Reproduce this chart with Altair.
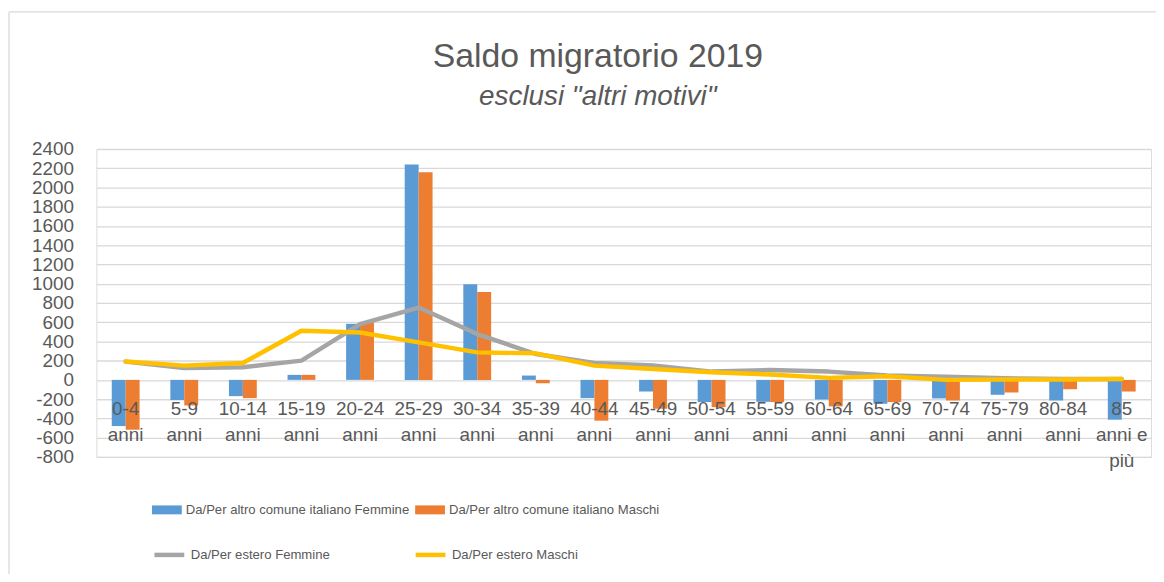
import altair as alt
import pandas as pd

categories = ["0-4 anni", "5-9 anni", "10-14 anni", "15-19 anni", "20-24 anni",
              "25-29 anni", "30-34 anni", "35-39 anni", "40-44 anni", "45-49 anni",
              "50-54 anni", "55-59 anni", "60-64 anni", "65-69 anni", "70-74 anni",
              "75-79 anni", "80-84 anni", "85 anni e più"]

bar_series = ["Da/Per altro comune italiano Femmine", "Da/Per altro comune italiano Maschi"]
line_series = ["Da/Per estero Femmine", "Da/Per estero Maschi"]

comune_femmine = [-480, -210, -169, 52, 583, 2240, 994, 45, -190, -121, -231, -228, -204, -248, -193, -155, -214, -414]
comune_maschi = [-518, -266, -190, 52, 597, 2157, 914, -35, -424, -300, -283, -231, -276, -231, -214, -131, -97, -121]
estero_femmine = [190, 124, 131, 200, 580, 752, 476, 269, 176, 150, 86, 103, 86, 45, 34, 17, 10, 10]
estero_maschi = [190, 148, 176, 510, 493, 390, 286, 276, 148, 114, 79, 55, 21, 38, 0, 3, 3, 10]

y_ticks = list(range(-800, 2401, 200))

bar_colors = ["#5b9bd5", "#ed7d31"]
line_colors = ["#a5a5a5", "#ffc000"]
text_color = "#595959"
grid_color = "#d9d9d9"

bars_df = pd.DataFrame(
    [{"cat": c, "serie": s, "val": v}
     for s, vals in zip(bar_series, [comune_femmine, comune_maschi])
     for c, v in zip(categories, vals)]
)
lines_df = pd.DataFrame(
    [{"cat": c, "serie": s, "val": v}
     for s, vals in zip(line_series, [estero_femmine, estero_maschi])
     for c, v in zip(categories, vals)]
)

def x_enc():
    return alt.X(
        "cat:N", sort=categories,
        scale=alt.Scale(paddingInner=0.525, paddingOuter=0.2625),
        axis=alt.Axis(
            title=None, labelAngle=0, domain=False, ticks=False, grid=False,
            offset=-77.5, labelPadding=20, labelFont="Liberation Sans",
            labelFontSize=19, labelColor=text_color, labelLineHeight=26,
            zindex=2, labelOverlap=False,
            labelExpr="datum.label == '85 anni e più' ? ['85', 'anni e', 'più'] : split(datum.label, ' ')",
        ),
    )

def y_enc():
    return alt.Y(
        "val:Q", scale=alt.Scale(domain=[-800, 2400], nice=False, zero=False),
        axis=alt.Axis(
            title=None, values=y_ticks, domain=False, ticks=False, grid=True,
            gridColor=grid_color, gridWidth=1.3, labelOverlap=False,
            labelExpr="datum.value + ''",
            labelFont="Liberation Sans", labelFontSize=19, labelColor=text_color,
            labelPadding=23, zindex=0,
        ),
    )

legend_common = dict(
    title=None, orient="none", direction="horizontal", columns=2,
    labelFont="Liberation Sans", labelFontSize=13.2,
    labelColor=text_color, labelLimit=500, labelOffset=4, padding=0,
    symbolSize=900,
)

bars = alt.Chart(bars_df).mark_bar().encode(
    x=x_enc(),
    xOffset=alt.XOffset("serie:N", sort=bar_series, scale=alt.Scale(paddingInner=0, paddingOuter=0)),
    y=y_enc(),
    fill=alt.Fill(
        "serie:N",
        scale=alt.Scale(domain=bar_series, range=bar_colors),
        legend=alt.Legend(legendX=56, legendY=348, columnPadding=5,
                          symbolType="M-1,-0.3H1V0.3H-1Z", symbolStrokeWidth=0,
                          **legend_common),
    ),
)

lines = alt.Chart(lines_df).mark_line(strokeWidth=4.5, strokeCap="round", strokeJoin="round").encode(
    x=x_enc(),
    y=y_enc(),
    stroke=alt.Stroke(
        "serie:N",
        scale=alt.Scale(domain=line_series, range=line_colors),
        legend=alt.Legend(legendX=56, legendY=391, columnPadding=77,
                          symbolType="stroke", symbolStrokeWidth=4.5,
                          **legend_common),
    ),
)

frame_df = pd.DataFrame({"k": [0]})
frame_left = alt.Chart(frame_df).mark_rule(color=grid_color, strokeWidth=1.3).encode(
    x=alt.value(-88), y=alt.value(-138), y2=alt.value(430)
)
frame_top = alt.Chart(frame_df).mark_rule(color=grid_color, strokeWidth=1.3).encode(
    x=alt.value(-88), x2=alt.value(1080), y=alt.value(-138)
)

chart = alt.layer(frame_left, frame_top, bars, lines).properties(
    width=1062,
    height=310,
    padding={"left": 89, "top": 140, "right": 5, "bottom": 116},
    autosize=alt.AutoSizeParams(type="none"),
    title=alt.TitleParams(
        text="Saldo migratorio 2019",
        subtitle='esclusi "altri motivi"',
        font="Liberation Sans", fontSize=34, fontWeight="normal", color=text_color,
        subtitleFont="Liberation Sans", subtitleFontSize=28, subtitleFontStyle="italic",
        subtitleColor=text_color, subtitlePadding=9, offset=-100, dx=-26,
    ),
).configure_view(stroke=None).configure(background="white")

chart.save("out.html", embed_options={"renderer": "svg", "actions": False})
